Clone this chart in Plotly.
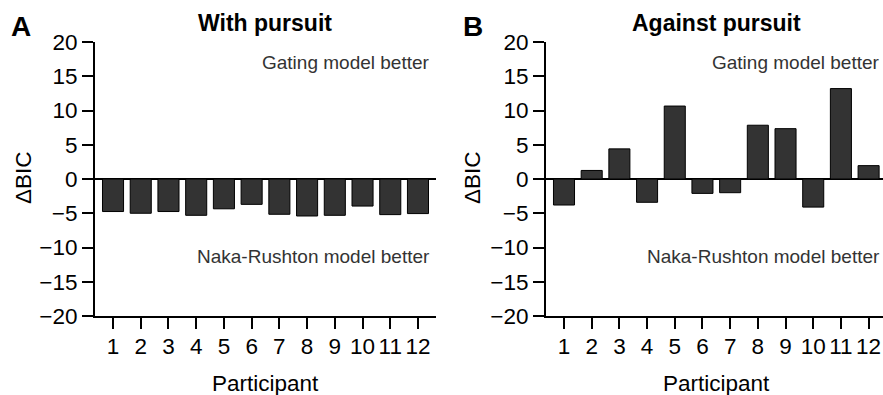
import plotly.graph_objects as go

participants = list(range(1, 13))
with_pursuit = [-4.75, -5.0, -4.75, -5.3, -4.35, -3.7, -5.15, -5.4, -5.3, -3.95, -5.2, -5.05]
against_pursuit = [-3.8, 1.25, 4.4, -3.4, 10.65, -2.1, -2.0, 7.85, 7.35, -4.1, 13.2, 1.95]
y_ticks = [-20, -15, -10, -5, 0, 5, 10, 15, 20]

FONT = "Liberation Sans, Arial, sans-serif"
W, H = 883, 395

fig = go.Figure()
bar_style = dict(marker=dict(color="#333333", line=dict(color="#000000", width=1)),
                 width=0.76, showlegend=False, hoverinfo="x+y")
fig.add_trace(go.Bar(x=participants, y=with_pursuit, xaxis="x", yaxis="y", **bar_style))
fig.add_trace(go.Bar(x=participants, y=against_pursuit, xaxis="x2", yaxis="y2", **bar_style))

ydom = [1 - 316 / H, 1 - 42 / H]
xdomA = [95 / W, 436 / W]
xdomB = [546 / W, 1.0]

xcommon = dict(tickvals=participants, ticktext=[str(p) for p in participants],
               ticks="outside", ticklen=11, tickwidth=2, tickcolor="black",
               showline=True, linewidth=2, linecolor="black", showgrid=False,
               zeroline=False, tickfont=dict(family=FONT, size=22.5, color="black"),
               ticklabelstandoff=-2, automargin=False, fixedrange=True)
ycommon = dict(range=[-20, 20], tickvals=y_ticks, ticks="outside", ticklen=11, tickwidth=2,
               tickcolor="black", showline=True, linewidth=2, linecolor="black",
               showgrid=False, zeroline=True, zerolinecolor="black", zerolinewidth=2,
               tickfont=dict(family=FONT, size=22.5, color="black"), domain=ydom,
               automargin=False, fixedrange=True)

fig.update_layout(
    width=W, height=H,
    margin=dict(l=0, r=0, t=0, b=0, autoexpand=False),
    paper_bgcolor="white", plot_bgcolor="white",
    bargap=0.24,
    xaxis=dict(domain=xdomA, range=[0.35, 12.65], anchor="y", **xcommon),
    yaxis=dict(anchor="x", **ycommon),
    xaxis2=dict(domain=xdomB, range=[0.35, 12.52], anchor="y2", **xcommon),
    yaxis2=dict(anchor="x2", **ycommon),
)

def ann(text, x, y, size, bold=False, xanchor="center", textangle=0, color="black"):
    fig.add_annotation(text=f"<b>{text}</b>" if bold else text, x=x / W, y=1 - y / H,
                       xref="paper", yref="paper", xanchor=xanchor, yanchor="middle",
                       showarrow=False, textangle=textangle,
                       font=dict(family=FONT, size=size, color=color))

ann("A", 21, 26, 28, bold=True)
ann("B", 473, 26, 28, bold=True)
ann("With pursuit", 265, 23, 23, bold=True)
ann("Against pursuit", 716, 23, 23, bold=True)
ann("Gating model better", 432, 63, 19, xanchor="right", color="#333333")
ann("Gating model better", 882, 63, 19, xanchor="right", color="#333333")
ann("Naka-Rushton model better", 432, 256, 19, xanchor="right", color="#333333")
ann("Naka-Rushton model better", 882, 256, 19, xanchor="right", color="#333333")
ann("ΔBIC", 24, 178, 22.5, textangle=-90)
ann("ΔBIC", 473, 178, 22.5, textangle=-90)
ann("Participant", 265, 383, 22.5)
ann("Participant", 716, 383, 22.5)

fig.write_html("out.html")
